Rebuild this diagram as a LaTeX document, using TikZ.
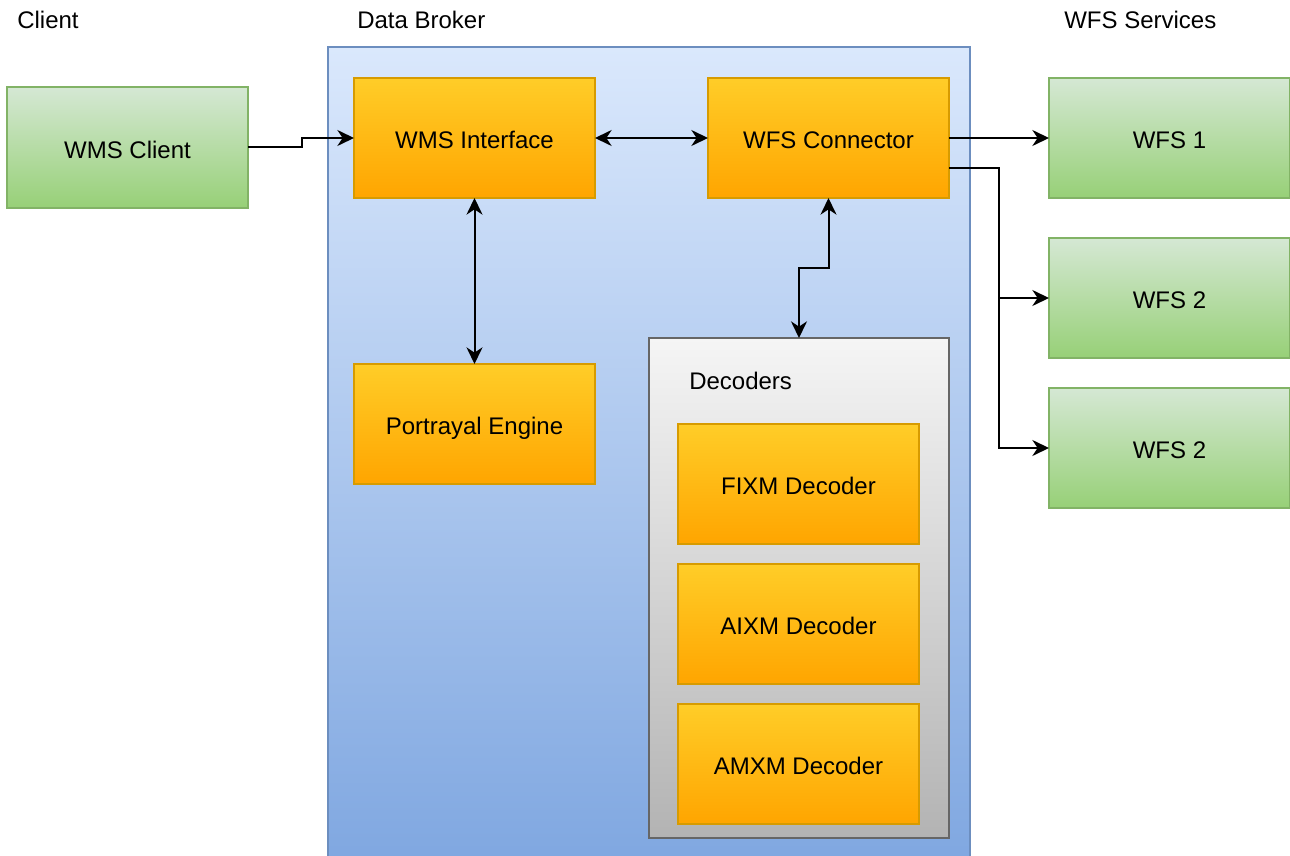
\documentclass[tikz,border=0pt]{standalone}
\usepackage{fontspec}
\setmainfont{Liberation Sans}
\usetikzlibrary{arrows.meta,calc}
\definecolor{blueT}{HTML}{DAE8FC}
\definecolor{blueB}{HTML}{7EA6E0}
\definecolor{blueD}{HTML}{6C8EBF}
\definecolor{grnT}{HTML}{D5E8D4}
\definecolor{grnB}{HTML}{97D077}
\definecolor{grnD}{HTML}{82B366}
\definecolor{orT}{HTML}{FFCD28}
\definecolor{orB}{HTML}{FFA500}
\definecolor{orD}{HTML}{D79B00}
\definecolor{gryT}{HTML}{F5F5F5}
\definecolor{gryB}{HTML}{B3B3B3}
\definecolor{gryD}{HTML}{666666}
\tikzset{
  txt/.style={font=\fontsize{18}{21.6}\selectfont, text=black},
  box/.style={txt, rectangle, inner sep=0pt, outer sep=0pt, line width=1pt,
    minimum width=180.75pt, minimum height=90pt, text height=16pt, text depth=0pt},
  orangebox/.style={box, top color=orT, bottom color=orB, draw=orD},
  greenbox/.style={box, top color=grnT, bottom color=grnB, draw=grnD},
  lbl/.style={txt, anchor=west, inner sep=0pt},
  conn/.style={line width=1.5pt, draw=black},
  arr/.style={conn, -{Stealth[length=12.5pt,width=12pt,inset=4pt]}},
  biarr/.style={conn, {Stealth[length=12.5pt,width=12pt,inset=4pt]}-{Stealth[length=12.5pt,width=12pt,inset=4pt]}},
}
\begin{document}
\begin{tikzpicture}[x=0.75pt,y=-0.75pt]
\useasboundingbox (0,0) rectangle (1290,856);
\fill[white] (0,0) rectangle (1290,856);
% containers
\node[rectangle, inner sep=0pt, outer sep=0pt, line width=1pt, top color=blueT, bottom color=blueB, draw=blueD,
  minimum width=481.5pt, minimum height=622.5pt] (broker) at (649,462) {};
\node[rectangle, inner sep=0pt, outer sep=0pt, line width=1pt, top color=gryT, bottom color=gryB, draw=gryD,
  minimum width=225pt, minimum height=375pt] (dec) at (799,588) {};
% labels
\node[lbl] (lclient) at (17,20) {Client};
\node[lbl] (lbroker) at (357,20) {Data Broker};
\node[lbl] (lwfs) at (1064,20) {WFS Services};
\node[lbl] (ldec) at (689,381) {Decoders};
% boxes
\node[greenbox, minimum height=90.75pt] (client) at (127.5,147.5) {WMS Client};
\node[orangebox] (wmsi) at (474.5,138) {WMS Interface};
\node[orangebox] (wfsc) at (828.5,138) {WFS Connector};
\node[orangebox] (port) at (474.5,424) {Portrayal Engine};
\node[orangebox] (fixm) at (798.5,484) {FIXM Decoder};
\node[orangebox] (aixm) at (798.5,624) {AIXM Decoder};
\node[orangebox] (amxm) at (798.5,764) {AMXM Decoder};
\node[greenbox] (wfs1) at (1169.5,138) {WFS 1};
\node[greenbox] (wfs2) at (1169.5,298) {WFS 2};
\node[greenbox] (wfs3) at (1169.5,448) {WFS 2};
% connectors
\draw[arr] (client.east) -- ++(54,0) |- (wmsi.west);
\draw[biarr] (wmsi.east) -- (wfsc.west);
\draw[biarr] (wmsi.south) -- (port.north);
\draw[biarr] (wfsc.south) -- ++(0,70) -| (dec.north);
\draw[arr] (wfsc.east) -- (wfs1.west);
\coordinate (j) at ($(wfsc.east)+(50,30)$);
\draw[arr] ($(wfsc.east)+(0,30)$) -- (j) |- (wfs2.west);
\draw[arr] (j) |- (wfs3.west);
\end{tikzpicture}
\end{document}
